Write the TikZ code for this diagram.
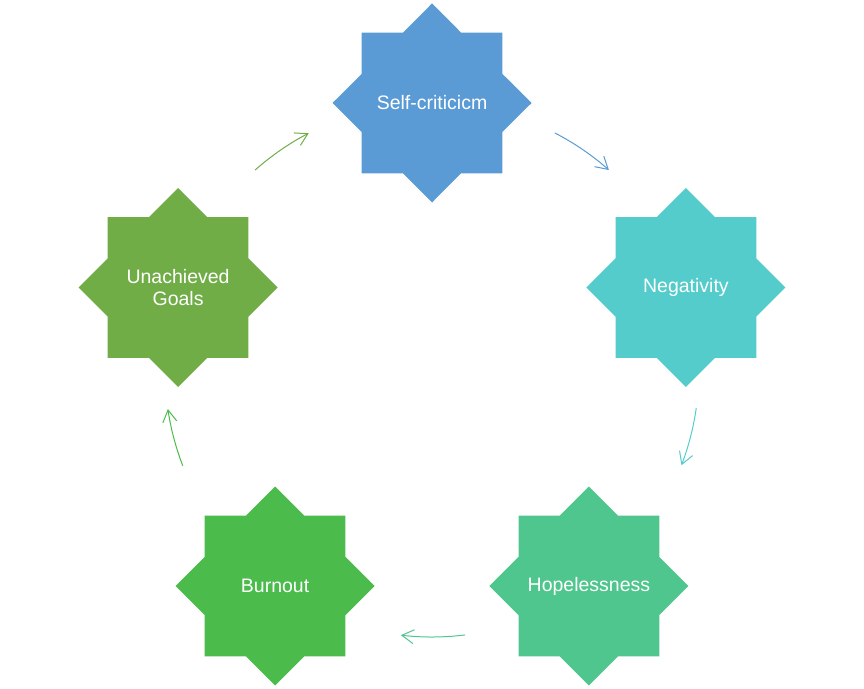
\documentclass[tikz,border=0pt]{standalone}
\usepackage{fontspec}
\setmainfont{Liberation Sans}
\usetikzlibrary{shapes.geometric,arrows.meta}
\definecolor{cself}{HTML}{5B9BD5}
\definecolor{cneg}{HTML}{55CCCC}
\definecolor{chope}{HTML}{4FC68D}
\definecolor{cburn}{HTML}{4BBB4C}
\definecolor{cgoal}{HTML}{70AD47}
\tikzset{
  starbox/.style={star, star points=8, star point ratio=1.307, minimum size=199pt,
    inner sep=0pt, draw=none, fill=#1},
  startext/.style={text=white, align=center, inner sep=0pt,
    font=\fontsize{19.5}{22}\selectfont},
  cyclearrow/.style={draw=#1, line width=1pt, -{Straight Barb[length=12pt,width=14pt,line width=1pt]}}
}
\begin{document}
\begin{tikzpicture}[x=1pt,y=1pt]
\useasboundingbox (0,0) rectangle (864,688);
\coordinate (c) at (432,318);
\node[starbox=cself] (self) at ([shift={(90:267)}]c) {};
\node[starbox=cneg] (neg) at ([shift={(18:267)}]c) {};
\node[starbox=chope] (hope) at ([shift={(-54:267)}]c) {};
\node[starbox=cburn] (burn) at ([shift={(-126:267)}]c) {};
\node[starbox=cgoal] (goal) at ([shift={(162:267)}]c) {};
\node[startext] (selft) at (self.center) {Self-criticicm};
\node[startext] (negt) at (neg.center) {Negativity};
\node[startext] (hopet) at (hope.center) {Hopelessness};
\node[startext] (burnt) at (burn.center) {Burnout};
\node[startext] (goalt) at (goal.center) {Unachieved\\Goals};
\coordinate (a1) at ([shift={(62.6:267)}]c);
\coordinate (a2) at ([shift={(-8.2:267)}]c);
\coordinate (a3) at ([shift={(-82.9:267)}]c);
\coordinate (a4) at ([shift={(201:267)}]c);
\coordinate (a5) at ([shift={(131.5:267)}]c);
\draw[cyclearrow=cself] (a1) arc[start angle=62.6, end angle=48.5, radius=267];
\draw[cyclearrow=cneg] (a2) arc[start angle=-8.2, end angle=-20.9, radius=267];
\draw[cyclearrow=chope] (a3) arc[start angle=-82.9, end angle=-96.7, radius=267];
\draw[cyclearrow=cburn] (a4) arc[start angle=201, end angle=188.4, radius=267];
\draw[cyclearrow=cgoal] (a5) arc[start angle=131.5, end angle=117.5, radius=267];
\end{tikzpicture}
\end{document}
